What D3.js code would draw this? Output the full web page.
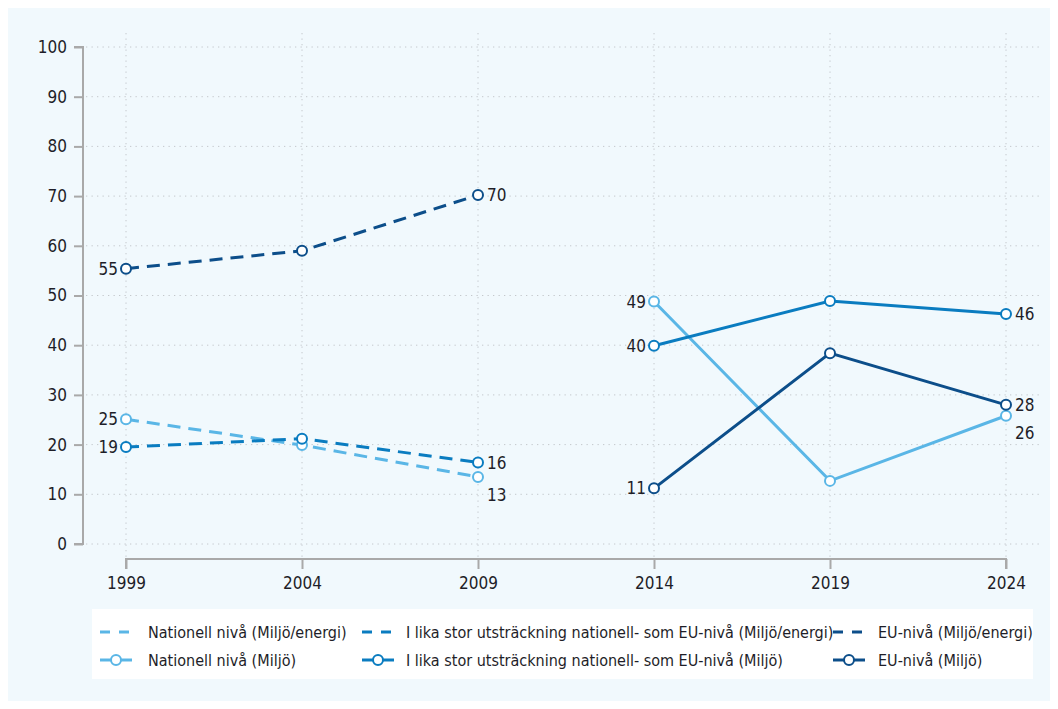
<!DOCTYPE html>
<html><head><meta charset="utf-8">
<script src="https://cdn.jsdelivr.net/npm/d3@7"></script>
<style>body{margin:0;background:#fff;} text{font-family:"DejaVu Sans Condensed","DejaVu Sans",sans-serif;}</style>
</head><body><svg id="c" width="1058" height="709"></svg>
<script>
const yearsEnergi = [1999, 2004, 2009];
const yearsMiljo = [2014, 2019, 2024];
const xTicks = [1999, 2004, 2009, 2014, 2019, 2024];
const yTicks = [0,10,20,30,40,50,60,70,80,90,100];
const natEnergi = [25.1, 19.9, 13.5];
const likaEnergi = [19.5, 21.2, 16.4];
const euEnergi = [55.4, 59.0, 70.2];
const natMiljo = [48.8, 12.7, 25.8];
const likaMiljo = [39.9, 48.9, 46.3];
const euMiljo = [11.2, 38.4, 28.0];
const labelsNatEnergi = ["25", "13"];
const labelsLikaEnergi = ["19", "16"];
const labelsEuEnergi = ["55", "70"];
const labelsNatMiljo = ["49", "26"];
const labelsLikaMiljo = ["40", "46"];
const labelsEuMiljo = ["11", "28"];
const legendNames = ["Nationell nivå (Miljö/energi)", "I lika stor utsträckning nationell- som EU-nivå (Miljö/energi)", "EU-nivå (Miljö/energi)",
  "Nationell nivå (Miljö)", "I lika stor utsträckning nationell- som EU-nivå (Miljö)", "EU-nivå (Miljö)"];

const C1 = "#5ab6e6", C2 = "#0a7cc0", C3 = "#0c4e8a";
const TXT = "#1e1e28";
const svg = d3.select("#c");
svg.append("rect").attr("x",8).attr("y",8).attr("width",1042).attr("height",693).attr("fill","#f1f9fd");

const x = d3.scaleLinear().domain([1999, 2024]).range([126, 1006]);
const y = d3.scaleLinear().domain([0, 100]).range([544, 47]);

// grid
const g = svg.append("g");
g.selectAll(".hg").data(yTicks).join("line").attr("x1",86).attr("x2",1040)
  .attr("y1",d=>y(d)).attr("y2",d=>y(d)).attr("stroke","#c4c8cc").attr("stroke-width",1).attr("stroke-dasharray","1.3,4.2");
g.selectAll(".vg").data(xTicks).join("line").attr("y1",33).attr("y2",557)
  .attr("x1",d=>x(d)).attr("x2",d=>x(d)).attr("stroke","#c4c8cc").attr("stroke-width",1).attr("stroke-dasharray","1.3,4.2");

// axes
const yAx = svg.append("g").attr("transform","translate(83,0)")
  .call(d3.axisLeft(y).tickValues(yTicks).tickSize(9).tickPadding(7));
const xAx = svg.append("g").attr("transform","translate(0,559)")
  .call(d3.axisBottom(x).tickValues(xTicks).tickFormat(d3.format("d")).tickSize(10).tickPadding(8));
[yAx, xAx].forEach(a=>{
  a.selectAll("path,line").attr("stroke","#a9a9a9").attr("stroke-width",2);
  a.selectAll("text").attr("fill",TXT).attr("font-size",17).attr("font-family",null);
});
yAx.select("path").attr("d","M-9,"+y(100)+"H0V"+y(0)+"H-9");
xAx.select("path").attr("d","M"+x(1999)+",10V0H"+x(2024)+"V10");

const line = d3.line().x(d=>x(d[0])).y(d=>y(d[1]));
const series = [
  {yrs: yearsEnergi, v: natEnergi, c: C1, dash: true, lab: labelsNatEnergi, endDy: 18},
  {yrs: yearsEnergi, v: likaEnergi, c: C2, dash: true, lab: labelsLikaEnergi, endDy: 0},
  {yrs: yearsEnergi, v: euEnergi, c: C3, dash: true, lab: labelsEuEnergi, endDy: 0},
  {yrs: yearsMiljo, v: natMiljo, c: C1, dash: false, lab: labelsNatMiljo, endDy: 17},
  {yrs: yearsMiljo, v: likaMiljo, c: C2, dash: false, lab: labelsLikaMiljo, endDy: 0},
  {yrs: yearsMiljo, v: euMiljo, c: C3, dash: false, lab: labelsEuMiljo, endDy: 0},
];
series.forEach(s=>{
  const pts = s.yrs.map((yr,i)=>[yr, s.v[i]]);
  svg.append("path").attr("d", line(pts)).attr("fill","none").attr("stroke", s.c)
    .attr("stroke-width", 3).attr("stroke-dasharray", s.dash ? "13,8" : null);
  svg.selectAll(null).data(pts).join("circle").attr("cx",d=>x(d[0])).attr("cy",d=>y(d[1]))
    .attr("r",5).attr("fill","#fff").attr("stroke",s.c).attr("stroke-width",2);
  svg.append("text").attr("x", x(pts[0][0]) - 8).attr("y", y(pts[0][1])).attr("dy","0.36em")
    .attr("text-anchor","end").attr("font-size",17).attr("fill",TXT).text(s.lab[0]);
  const last = pts[pts.length-1];
  svg.append("text").attr("x", x(last[0]) + 9).attr("y", y(last[1]) + s.endDy).attr("dy","0.36em")
    .attr("text-anchor","start").attr("font-size",17).attr("fill",TXT).text(s.lab[1]);
});

// legend
svg.append("rect").attr("x",92).attr("y",609).attr("width",941).attr("height",70).attr("fill","#fff");
const colX = [100, 362, 833], textX = [148, 406, 878], rowY = [632, 660];
const lcol = [C1, C2, C3];
legendNames.forEach((n,i)=>{
  const col = i % 3, row = Math.floor(i/3);
  const lg = svg.append("g");
  const x0 = colX[col], yy = rowY[row];
  if (row === 0) {
    lg.append("line").attr("x1",x0).attr("x2",x0+32).attr("y1",yy).attr("y2",yy)
      .attr("stroke",lcol[col]).attr("stroke-width",3).attr("stroke-dasharray","10,9");
  } else {
    lg.append("line").attr("x1",x0).attr("x2",x0+32).attr("y1",yy).attr("y2",yy)
      .attr("stroke",lcol[col]).attr("stroke-width",3);
    lg.append("circle").attr("cx",x0+16).attr("cy",yy).attr("r",5).attr("fill","#fff")
      .attr("stroke",lcol[col]).attr("stroke-width",2);
  }
  lg.append("text").attr("x",textX[col]).attr("y",yy).attr("dy","0.36em").attr("font-size",16)
    .attr("fill",TXT).text(n);
});
</script></body></html>
